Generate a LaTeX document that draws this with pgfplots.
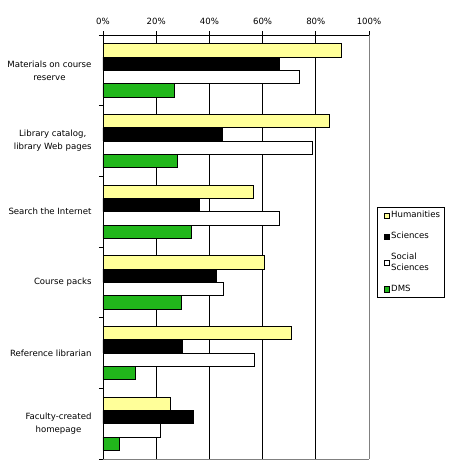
\documentclass[border=0pt]{standalone}
\usepackage{pgfplots}
\pgfplotsset{compat=1.18}
\usepackage{fontspec}
\setmainfont{DejaVu Sans}
\definecolor{hum}{RGB}{255,255,153}
\definecolor{dms}{RGB}{33,183,27}
\begin{document}
\begin{tikzpicture}
\useasboundingbox (-103bp,-12bp) rectangle (350bp,459bp);
\begin{axis}[
  at={(0,0)}, anchor=south west,
  scale only axis, width=266bp, height=424bp,
  xbar, bar width=13.3bp,
  xmin=0, xmax=100, ymin=-0.5, ymax=5.5, y dir=reverse,
  axis x line*=top, axis y line*=left,
  axis line style={black, line width=0.8bp},
  every axis plot/.append style={draw=black, line width=0.8bp},
  xtick={0,20,40,60,80}, xticklabel pos=right,
  xticklabel={\pgfmathprintnumber{\tick}\%},
  /pgf/number format/assume math mode=true,
  xmajorgrids, major grid style={black, line width=0.8bp},
  extra x ticks={100}, extra x tick labels={100\%},
  extra x tick style={major grid style={gray, line width=0.8bp}},
  extra y ticks={5.5}, extra y tick labels={},
  extra y tick style={ymajorgrids, major grid style={gray, line width=0.8bp}, major tick length=0pt},
  ytick={-0.5,0.5,1.5,2.5,3.5,4.5,5.5},
  yticklabels={{Materials on course\\reserve},{Library catalog,\\library Web pages},{Search the Internet},{Course packs},{Reference librarian},{Faculty-created\\homepage},{}},
  y tick label style={align=center, yshift=-35.33bp, xshift=-4bp},
  x tick label style={yshift=3bp},
  major tick length=4bp, tick align=outside,
  tick style={black, line width=0.8bp},
  every tick label/.append style={font=\fontsize{8.6}{13}\selectfont},
  legend style={at={(1.031,0.594)}, anchor=north west, draw=black, line width=0.6bp,
    font=\fontsize{8.6}{11}\selectfont, row sep=9bp, inner sep=2bp,
    cells={anchor=west, align=left}},
  legend image code/.code={\path (0bp,0bp); \draw[#1, line width=0.6bp] (4bp,-2.5bp) rectangle (9bp,2.5bp);},
]
\addplot[fill=hum, bar shift=20bp] coordinates {(89.6,0) (85.3,1) (56.4,2) (60.5,3) (70.7,4) (25.2,5)};
\addplot[fill=black, bar shift=6.67bp] coordinates {(66.3,0) (44.9,1) (36.4,2) (42.6,3) (29.8,4) (34.0,5)};
\addplot[fill=white, bar shift=-6.67bp] coordinates {(73.7,0) (78.6,1) (66.5,2) (45.1,3) (57.1,4) (21.4,5)};
\addplot[fill=dms, bar shift=-20bp] coordinates {(26.7,0) (27.8,1) (33.1,2) (29.3,3) (12.0,4) (6.0,5)};
\legend{Humanities,Sciences,{Social\\Sciences},DMS}
\end{axis}
\end{tikzpicture}
\end{document}
